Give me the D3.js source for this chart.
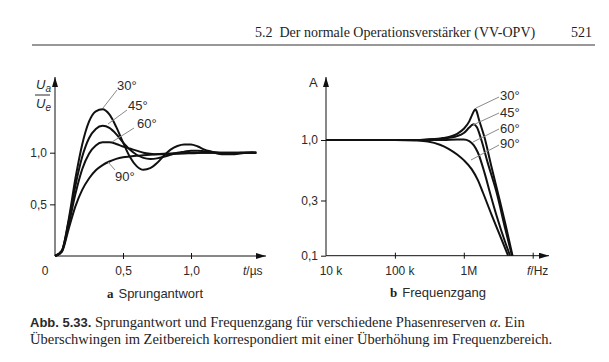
<!DOCTYPE html>
<html>
<head>
<meta charset="utf-8">
<script src="https://cdn.jsdelivr.net/npm/d3@7"></script>
<style>
  body { margin: 0; background: #fff; }
  svg { display: block; }
  .sans { font-family: "Liberation Sans", Arial, sans-serif; fill: #2a2a2a; }
  .serif { font-family: "Liberation Serif", "Times New Roman", serif; fill: #1e1e1e; }
</style>
</head>
<body>
<div id="chart"></div>
<script>
// step response (a): t in µs, values Ua/Ue
var tStep = [0, 0.05, 0.10, 0.15, 0.20, 0.25, 0.30, 0.35, 0.40, 0.45, 0.50, 0.55, 0.60, 0.65, 0.70, 0.75,
             0.80, 0.85, 0.90, 0.95, 1.00, 1.05, 1.10, 1.15, 1.20, 1.25, 1.30, 1.35, 1.40, 1.45, 1.48];
var step30 = [0, 0.05, 0.35, 0.75, 1.08, 1.30, 1.40, 1.42, 1.37, 1.25, 1.10, 0.96, 0.87, 0.835, 0.85, 0.90,
              0.97, 1.03, 1.065, 1.08, 1.08, 1.06, 1.03, 1.01, 0.99, 0.985, 0.985, 0.99, 1.0, 1.005, 1.0];
var step45 = [0, 0.05, 0.33, 0.68, 0.96, 1.14, 1.23, 1.26, 1.24, 1.18, 1.10, 1.03, 0.98, 0.95, 0.94, 0.945,
              0.96, 0.98, 1.0, 1.01, 1.02, 1.02, 1.015, 1.01, 1.0, 0.995, 0.995, 0.997, 1.0, 1.0, 1.0];
var step60 = [0, 0.045, 0.30, 0.60, 0.84, 0.99, 1.07, 1.10, 1.10, 1.085, 1.06, 1.04, 1.02, 1.0, 0.99, 0.985,
              0.985, 0.987, 0.99, 0.993, 0.995, 0.997, 1.0, 1.0, 1.0, 1.0, 1.0, 1.0, 1.0, 1.0, 1.0];
var step90 = [0, 0.04, 0.26, 0.48, 0.64, 0.75, 0.83, 0.88, 0.915, 0.94, 0.955, 0.963, 0.97, 0.975, 0.98, 0.985,
              0.99, 0.992, 0.995, 0.997, 1.0, 1.0, 1.0, 1.0, 1.0, 1.0, 1.0, 1.0, 1.0, 1.0, 1.0];

// frequency response (b): f in Hz, amplitude A
var freq30 = [1e4, 1e5, 2e5, 3e5, 5e5, 8e5, 1e6, 1.2e6, 1.32e6, 1.41e6, 1.47e6, 1.53e6, 1.65e6, 2e6, 2.5e6, 3.2e6, 4e6, 5.1e6];
var amp30  = [1.0, 1.0, 1.0, 1.01, 1.04, 1.13, 1.25, 1.45, 1.65, 1.79, 1.84, 1.78, 1.52, 1.05, 0.6, 0.33, 0.19, 0.1];
var freq45 = [1e4, 1e5, 2e5, 3e5, 5e5, 8e5, 1e6, 1.2e6, 1.32e6, 1.4e6, 1.55e6, 1.8e6, 2.2e6, 3e6, 4e6, 5.0e6];
var amp45  = [1.0, 1.0, 1.0, 1.01, 1.03, 1.08, 1.15, 1.28, 1.35, 1.37, 1.29, 1.0, 0.65, 0.35, 0.17, 0.1];
var freq60 = [1e4, 1e5, 2e5, 5e5, 8e5, 1e6, 1.2e6, 1.4e6, 1.6e6, 2e6, 2.4e6, 3e6, 4e6, 4.7e6];
var amp60  = [1.0, 1.0, 1.0, 1.0, 1.01, 1.01, 0.98, 0.9, 0.78, 0.52, 0.35, 0.22, 0.13, 0.1];
var freq90 = [1e4, 1e5, 2e5, 3e5, 4.5e5, 6e5, 8e5, 1e6, 1.3e6, 1.6e6, 1.9e6, 2.5e6, 3.2e6, 4.4e6];
var amp90  = [1.0, 1.0, 0.99, 0.97, 0.91, 0.84, 0.75, 0.67, 0.56, 0.45, 0.35, 0.23, 0.16, 0.1];

var phaseLabels = ["30°", "45°", "60°", "90°"];

var width = 609, height = 362;
var svg = d3.select("#chart").append("svg")
    .attr("width", width)
    .attr("height", height);

svg.append("rect").attr("width", width).attr("height", height).attr("fill", "#fff");

// page header
svg.append("text").attr("class", "serif")
    .attr("x", 255).attr("y", 37)
    .style("font-size", "14px")
    .attr("xml:space", "preserve")
    .text("5.2  Der normale Operationsverstärker (VV-OPV)");
svg.append("text").attr("class", "serif")
    .attr("x", 592).attr("y", 37)
    .attr("text-anchor", "end")
    .style("font-size", "14px")
    .text("521");
svg.append("line")
    .attr("x1", 32).attr("x2", 595).attr("y1", 45).attr("y2", 45)
    .attr("stroke", "#333").attr("stroke-width", 1.2);

var defs = svg.append("defs");
defs.append("marker")
    .attr("id", "arrow")
    .attr("viewBox", "0 0 10 6")
    .attr("refX", 10).attr("refY", 3)
    .attr("markerWidth", 10).attr("markerHeight", 6)
    .attr("markerUnits", "userSpaceOnUse")
    .attr("orient", "auto")
    .append("path").attr("d", "M0,0L10,3L0,6Z").attr("fill", "#111");

function axisLine(g, x1, y1, x2, y2) {
    g.append("line")
        .attr("x1", x1).attr("y1", y1).attr("x2", x2).attr("y2", y2)
        .attr("stroke", "#111").attr("stroke-width", 1)
        .attr("marker-end", "url(#arrow)");
}

function styleAxis(g) {
    g.select(".domain").remove();
    g.selectAll(".tick line").attr("stroke", "#111");
    g.selectAll(".tick text")
        .attr("class", "sans")
        .style("font-family", "'Liberation Sans', Arial, sans-serif")
        .style("font-size", "12px")
        .attr("fill", "#2a2a2a");
}

function comma(d) { return d3.format(".1f")(d).replace(".", ","); }

// ---------- (a) Sprungantwort ----------
var xa = d3.scaleLinear().domain([0, 1]).range([55, 191]);
var ya = d3.scaleLinear().domain([0, 1]).range([256, 152.7]);
var ga = svg.append("g");

var xAxisA = ga.append("g")
    .attr("transform", "translate(0," + ya(0) + ")")
    .call(d3.axisBottom(xa).tickValues([0.5, 1.0]).tickSize(3).tickPadding(7).tickFormat(comma));
xAxisA.selectAll(".tick line").attr("y1", -3);
styleAxis(xAxisA);

var yAxisA = ga.append("g")
    .attr("transform", "translate(" + xa(0) + ",0)")
    .call(d3.axisLeft(ya).tickValues([0.5, 1.0]).tickSize(5).tickPadding(3).tickFormat(comma));
styleAxis(yAxisA);

axisLine(ga, xa(0), ya(0), 266, ya(0));
axisLine(ga, xa(0), ya(0), xa(0), 77);

ga.append("text").attr("class", "sans").attr("x", 45).attr("y", 275)
    .attr("text-anchor", "middle").style("font-size", "12px").text("0");
var tl = ga.append("text").attr("class", "sans").attr("x", 243).attr("y", 275)
    .style("font-size", "12px");
tl.append("tspan").style("font-style", "italic").text("t");
tl.append("tspan").text("/µs");

// Ua / Ue
var ua = ga.append("text").attr("class", "sans").attr("x", 36).attr("y", 89).style("font-size", "13px");
ua.append("tspan").style("font-style", "italic").text("U");
ua.append("tspan").attr("dy", 3).style("font-size", "10px").style("font-style", "italic").text("a");
ga.append("line").attr("x1", 35).attr("x2", 50).attr("y1", 95).attr("y2", 95)
    .attr("stroke", "#2a2a2a").attr("stroke-width", 1);
var ue = ga.append("text").attr("class", "sans").attr("x", 36).attr("y", 108).style("font-size", "13px");
ue.append("tspan").style("font-style", "italic").text("U");
ue.append("tspan").attr("dy", 3).style("font-size", "10px").style("font-style", "italic").text("e");

var lineA = d3.line()
    .x(function (d) { return xa(d[0]); })
    .y(function (d) { return ya(d[1]); })
    .curve(d3.curveMonotoneX);

[step30, step45, step60, step90].forEach(function (s) {
    ga.append("path")
        .datum(d3.zip(tStep, s))
        .attr("fill", "none")
        .attr("stroke", "#111")
        .attr("stroke-width", 2)
        .attr("d", lineA);
});

// labels with leader lines (a)
var labA = [
    { x: 117, y: 90, lx1: 117, ly1: 90, lx2: 103, ly2: 108 },
    { x: 128, y: 110, lx1: 127, ly1: 110, lx2: 108, ly2: 124 },
    { x: 137, y: 128, lx1: 134, ly1: 128, lx2: 112, ly2: 142 },
    { x: 115, y: 181, lx1: 115, ly1: 170, lx2: 108, ly2: 162 }
];
labA.forEach(function (l, i) {
    ga.append("line").attr("x1", l.lx1).attr("y1", l.ly1).attr("x2", l.lx2).attr("y2", l.ly2)
        .attr("stroke", "#8a8a8a").attr("stroke-width", 1);
    ga.append("text").attr("class", "sans").attr("x", l.x).attr("y", l.y)
        .style("font-size", "13px").text(phaseLabels[i]);
});

var capA = ga.append("text").attr("x", 155).attr("y", 298).attr("text-anchor", "middle");
capA.append("tspan").attr("class", "serif").style("font-weight", "bold").style("font-size", "13px").text("a");
capA.append("tspan").attr("class", "sans").attr("dx", 5).style("font-size", "13px").text("Sprungantwort");

// ---------- (b) Frequenzgang ----------
var xb = d3.scaleLog().domain([1e4, 1e7]).range([326, 532.7]);
var yb = d3.scaleLog().domain([0.1, 1]).range([255.7, 140]);
var gb = svg.append("g");

var xAxisB = gb.append("g")
    .attr("transform", "translate(0," + yb(0.1) + ")")
    .call(d3.axisBottom(xb).tickValues([1e5, 1e6, 1e7]).tickSize(3).tickPadding(7).tickFormat(function () { return ""; }));
xAxisB.selectAll(".tick line").attr("y1", -3);
styleAxis(xAxisB);

var yAxisB = gb.append("g")
    .attr("transform", "translate(" + xb(1e4) + ",0)")
    .call(d3.axisLeft(yb).tickValues([0.1, 0.3, 1]).tickSize(5).tickPadding(3).tickFormat(comma));
styleAxis(yAxisB);

axisLine(gb, xb(1e4), yb(0.1), 549, yb(0.1));
axisLine(gb, xb(1e4), yb(0.1), xb(1e4), 77);

var fTicks = [1e4, 1e5, 1e6];
var fTickLabels = ["10 k", "100 k", "1M"];
gb.selectAll(".flab").data(fTicks).enter().append("text")
    .attr("class", "sans flab")
    .attr("x", function (d) { return xb(d) + 5; })
    .attr("y", 275)
    .attr("text-anchor", "middle")
    .style("font-size", "12px")
    .text(function (d, i) { return fTickLabels[i]; });
var fl = gb.append("text").attr("class", "sans").attr("x", 527).attr("y", 275).style("font-size", "12px");
fl.append("tspan").style("font-style", "italic").text("f");
fl.append("tspan").text("/Hz");

gb.append("text").attr("class", "sans").attr("x", 309).attr("y", 87).style("font-size", "13px").text("A");

var lineB = d3.line()
    .x(function (d) { return xb(d[0]); })
    .y(function (d) { return yb(d[1]); })
    .curve(d3.curveMonotoneX);

[[freq30, amp30], [freq45, amp45], [freq60, amp60], [freq90, amp90]].forEach(function (s) {
    gb.append("path")
        .datum(d3.zip(s[0], s[1]))
        .attr("fill", "none")
        .attr("stroke", "#111")
        .attr("stroke-width", 2)
        .attr("d", lineB);
});

var labB = [
    { y: 100, ly1: 97, lx2: 476, ly2: 108 },
    { y: 117, ly1: 113, lx2: 473, ly2: 125 },
    { y: 133, ly1: 129, lx2: 473, ly2: 142 },
    { y: 148, ly1: 145, lx2: 471, ly2: 160 }
];
labB.forEach(function (l, i) {
    gb.append("line").attr("x1", 499).attr("y1", l.ly1).attr("x2", l.lx2).attr("y2", l.ly2)
        .attr("stroke", "#8a8a8a").attr("stroke-width", 1);
    gb.append("text").attr("class", "sans").attr("x", 500).attr("y", l.y)
        .style("font-size", "13px").text(phaseLabels[i]);
});

var capB = gb.append("text").attr("x", 438).attr("y", 297).attr("text-anchor", "middle");
capB.append("tspan").attr("class", "serif").style("font-weight", "bold").style("font-size", "13px").text("b");
capB.append("tspan").attr("class", "sans").attr("dx", 5).style("font-size", "13px").text("Frequenzgang");

// ---------- figure caption ----------
var c1 = svg.append("text").attr("x", 30).attr("y", 327).style("font-size", "14.5px");
c1.append("tspan").attr("class", "sans").style("font-weight", "bold").style("font-size", "13px").text("Abb. 5.33.");
c1.append("tspan").attr("class", "serif").text(" Sprungantwort und Frequenzgang für verschiedene Phasenreserven ");
c1.append("tspan").attr("class", "serif").style("font-style", "italic").text("α");
c1.append("tspan").attr("class", "serif").text(". Ein");
svg.append("text").attr("class", "serif").attr("x", 30).attr("y", 344).style("font-size", "14.5px")
    .text("Überschwingen im Zeitbereich korrespondiert mit einer Überhöhung im Frequenzbereich.");
</script>
</body>
</html>
